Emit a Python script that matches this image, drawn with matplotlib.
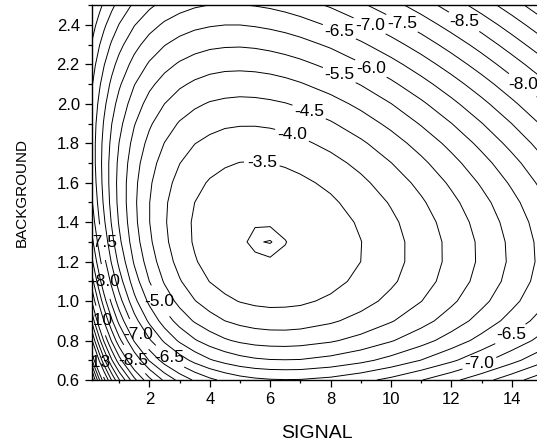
import matplotlib
matplotlib.use("Agg")
import matplotlib.pyplot as plt
from matplotlib.ticker import MultipleLocator, FormatStrFormatter

plt.rcParams['font.family'] = ['Liberation Sans', 'DejaVu Sans']

# grid of the surface
signal = [0.1, 0.2, 0.35, 0.5, 0.75, 1, 1.5, 2, 2.5, 3, 3.5, 4, 4.5,
          5, 5.5, 6, 6.5, 7, 8, 9, 10, 11, 12, 13, 14, 15]
background = [0.6, 0.7, 0.8, 0.9, 1.0, 1.1, 1.2, 1.3, 1.4, 1.5,
              1.6, 1.7, 1.8, 1.9, 2.0, 2.1, 2.2, 2.3, 2.4, 2.5]

z_b06 = [-15.86, -15.04, -14.01, -13.14, -11.97, -11.04, -9.64, -8.64, -7.90, -7.35, -6.93, -6.61, -6.38, -6.21, -6.10, -6.04, -6.02, -6.03, -6.14, -6.35, -6.63, -6.98, -7.37, -7.81, -8.29, -8.81]
z_b07 = [-14.02, -13.31, -12.40, -11.62, -10.56, -9.70, -8.40, -7.46, -6.77, -6.25, -5.85, -5.55, -5.34, -5.18, -5.08, -5.03, -5.02, -5.03, -5.16, -5.37, -5.66, -6.01, -6.41, -6.86, -7.34, -7.86]
z_b08 = [-12.56, -11.93, -11.12, -10.42, -9.45, -8.66, -7.45, -6.57, -5.91, -5.42, -5.05, -4.77, -4.56, -4.42, -4.33, -4.29, -4.28, -4.31, -4.44, -4.66, -4.96, -5.31, -5.72, -6.17, -6.66, -7.17]
z_b09 = [-11.38, -10.83, -10.10, -9.46, -8.58, -7.84, -6.71, -5.89, -5.27, -4.80, -4.45, -4.19, -4.00, -3.87, -3.79, -3.75, -3.75, -3.78, -3.93, -4.16, -4.46, -4.82, -5.23, -5.69, -6.18, -6.70]
z_b10 = [-10.45, -9.95, -9.29, -8.71, -7.89, -7.21, -6.15, -5.38, -4.79, -4.35, -4.02, -3.78, -3.60, -3.48, -3.41, -3.38, -3.39, -3.42, -3.58, -3.82, -4.13, -4.49, -4.91, -5.37, -5.86, -6.38]
z_b11 = [-9.70, -9.25, -8.64, -8.11, -7.36, -6.73, -5.74, -5.00, -4.45, -4.04, -3.73, -3.49, -3.33, -3.22, -3.16, -3.14, -3.15, -3.20, -3.36, -3.61, -3.92, -4.29, -4.71, -5.18, -5.67, -6.20]
z_b12 = [-9.10, -8.69, -8.14, -7.65, -6.95, -6.37, -5.44, -4.75, -4.23, -3.84, -3.54, -3.33, -3.17, -3.076, -3.023, -3.009, -3.028, -3.077, -3.25, -3.50, -3.83, -4.20, -4.63, -5.09, -5.59, -6.12]
z_b13 = [-8.64, -8.27, -7.76, -7.31, -6.66, -6.11, -5.24, -4.59, -4.10, -3.73, -3.45, -3.25, -3.11, -3.021, -2.976, -2.969, -2.995, -3.050, -3.23, -3.49, -3.82, -4.21, -4.63, -5.10, -5.61, -6.14]
z_b14 = [-8.30, -7.95, -7.48, -7.07, -6.46, -5.95, -5.13, -4.51, -4.05, -3.70, -3.44, -3.25, -3.12, -3.045, -3.009, -3.009, -3.041, -3.101, -3.29, -3.56, -3.90, -4.28, -4.72, -5.19, -5.70, -6.23]
z_b15 = [-8.05, -7.73, -7.30, -6.91, -6.34, -5.86, -5.09, -4.51, -4.07, -3.74, -3.50, -3.32, -3.21, -3.14, -3.11, -3.12, -3.15, -3.22, -3.42, -3.70, -4.04, -4.43, -4.87, -5.34, -5.85, -6.39]
z_b16 = [-7.88, -7.59, -7.19, -6.83, -6.30, -5.84, -5.12, -4.57, -4.16, -3.85, -3.62, -3.46, -3.35, -3.29, -3.27, -3.28, -3.33, -3.40, -3.60, -3.89, -4.24, -4.63, -5.08, -5.56, -6.07, -6.61]
z_b17 = [-7.79, -7.52, -7.15, -6.81, -6.31, -5.89, -5.20, -4.69, -4.30, -4.01, -3.79, -3.64, -3.55, -3.49, -3.48, -3.50, -3.55, -3.63, -3.84, -4.13, -4.49, -4.89, -5.34, -5.82, -6.33, -6.88]
z_b18 = [-7.77, -7.52, -7.17, -6.85, -6.39, -5.99, -5.34, -4.86, -4.49, -4.21, -4.01, -3.88, -3.79, -3.75, -3.74, -3.77, -3.82, -3.90, -4.13, -4.42, -4.78, -5.19, -5.64, -6.13, -6.65, -7.19]
z_b19 = [-7.81, -7.57, -7.25, -6.95, -6.51, -6.14, -5.53, -5.07, -4.72, -4.46, -4.28, -4.15, -4.07, -4.04, -4.04, -4.07, -4.13, -4.22, -4.45, -4.76, -5.12, -5.54, -5.99, -6.48, -7.00, -7.55]
z_b20 = [-7.90, -7.68, -7.38, -7.10, -6.69, -6.33, -5.76, -5.32, -5.00, -4.75, -4.58, -4.46, -4.40, -4.37, -4.38, -4.42, -4.48, -4.57, -4.81, -5.12, -5.49, -5.91, -6.37, -6.86, -7.39, -7.94]
z_b21 = [-8.04, -7.83, -7.55, -7.29, -6.90, -6.57, -6.02, -5.61, -5.31, -5.08, -4.92, -4.81, -4.75, -4.73, -4.75, -4.79, -4.86, -4.96, -5.21, -5.52, -5.90, -6.32, -6.78, -7.28, -7.81, -8.36]
z_b22 = [-8.22, -8.03, -7.76, -7.52, -7.15, -6.84, -6.33, -5.94, -5.65, -5.44, -5.29, -5.19, -5.14, -5.13, -5.15, -5.20, -5.28, -5.38, -5.63, -5.96, -6.33, -6.76, -7.23, -7.73, -8.26, -8.81]
z_b23 = [-8.45, -8.27, -8.01, -7.78, -7.44, -7.14, -6.66, -6.29, -6.02, -5.82, -5.69, -5.60, -5.56, -5.55, -5.58, -5.64, -5.72, -5.82, -6.08, -6.41, -6.80, -7.23, -7.70, -8.20, -8.74, -9.30]
z_b24 = [-8.71, -8.54, -8.30, -8.08, -7.76, -7.48, -7.02, -6.68, -6.42, -6.24, -6.11, -6.04, -6.00, -6.00, -6.04, -6.10, -6.18, -6.29, -6.56, -6.90, -7.29, -7.72, -8.20, -8.70, -9.24, -9.80]
z_b25 = [-9.00, -8.84, -8.62, -8.41, -8.11, -7.84, -7.41, -7.09, -6.85, -6.68, -6.56, -6.49, -6.47, -6.48, -6.52, -6.58, -6.67, -6.78, -7.06, -7.41, -7.80, -8.24, -8.72, -9.23, -9.76, -10.33]

surface = [z_b06, z_b07, z_b08, z_b09, z_b10, z_b11, z_b12, z_b13, z_b14, z_b15,
           z_b16, z_b17, z_b18, z_b19, z_b20, z_b21, z_b22, z_b23, z_b24, z_b25]

# contour levels and where the labelled ones carry their value
levels = [-16 + 0.5 * k for k in range(27)] + [-2.972]
label_marks = {
    -3.5: [(5.73, 1.70)],
    -4.0: [(6.73, 1.843)],
    -4.5: [(7.29, 1.959)],
    -5.0: [(2.32, 0.997)],
    -5.5: [(8.29, 2.146)],
    -6.0: [(9.34, 2.18)],
    -6.5: [(8.29, 2.365), (13.97, 0.83), (2.65, 0.714)],
    -7.0: [(9.31, 2.40), (12.92, 0.689), (1.63, 0.83)],
    -7.5: [(10.37, 2.41), (0.50, 1.30)],
    -8.0: [(14.37, 2.096), (0.56, 1.10)],
    -8.5: [(12.42, 2.415), (1.46, 0.70)],
    -10.0: [(0.47, 0.905)],
    -13.0: [(0.47, 0.70)],
}


def fmt(v):
    return '%.0f' % v if abs(v) >= 10 else '%.1f' % v


fig = plt.figure(figsize=(5.37, 4.45), dpi=100)
ax = fig.add_axes([92 / 537, 65 / 445, 449.9 / 537, 374.75 / 445])

plain = sorted(lv for lv in levels if lv not in label_marks)
ax.contour(signal, background, surface, levels=plain,
           colors='black', linewidths=0.7, linestyles='solid')
texts = []
for lv, spots in label_marks.items():
    cs = ax.contour(signal, background, surface, levels=[lv],
                    colors='black', linewidths=0.7, linestyles='solid')
    texts += cs.clabel(manual=spots, inline=True, inline_spacing=3,
                       fmt=fmt, fontsize=12.5, colors='black')
for t in texts:
    t.set_rotation(0)

ax.set_xlim(0.1, 15)
ax.set_ylim(0.6, 2.5)
ax.xaxis.set_major_locator(MultipleLocator(2))
ax.xaxis.set_minor_locator(MultipleLocator(1))
ax.yaxis.set_major_locator(MultipleLocator(0.2))
ax.yaxis.set_minor_locator(MultipleLocator(0.1))
ax.yaxis.set_major_formatter(FormatStrFormatter('%.1f'))
ax.tick_params(which='both', direction='out', width=0.9, labelsize=12, top=False, right=False)
ax.tick_params(axis='x', which='major', length=5, pad=3.8)
ax.tick_params(axis='x', which='minor', length=2.5)
ax.tick_params(axis='y', which='major', length=5, pad=3.8)
ax.tick_params(axis='y', which='minor', length=3)
for sp in ax.spines.values():
    sp.set_linewidth(1.0)

ax.set_xlabel('SIGNAL', fontsize=14)
ax.set_ylabel('BACKGROUND', fontsize=11)
ax.xaxis.set_label_coords(0.5, -0.1208)
ax.yaxis.set_label_coords(-0.1407, 0.5)

fig.savefig('out.png', dpi=100)
